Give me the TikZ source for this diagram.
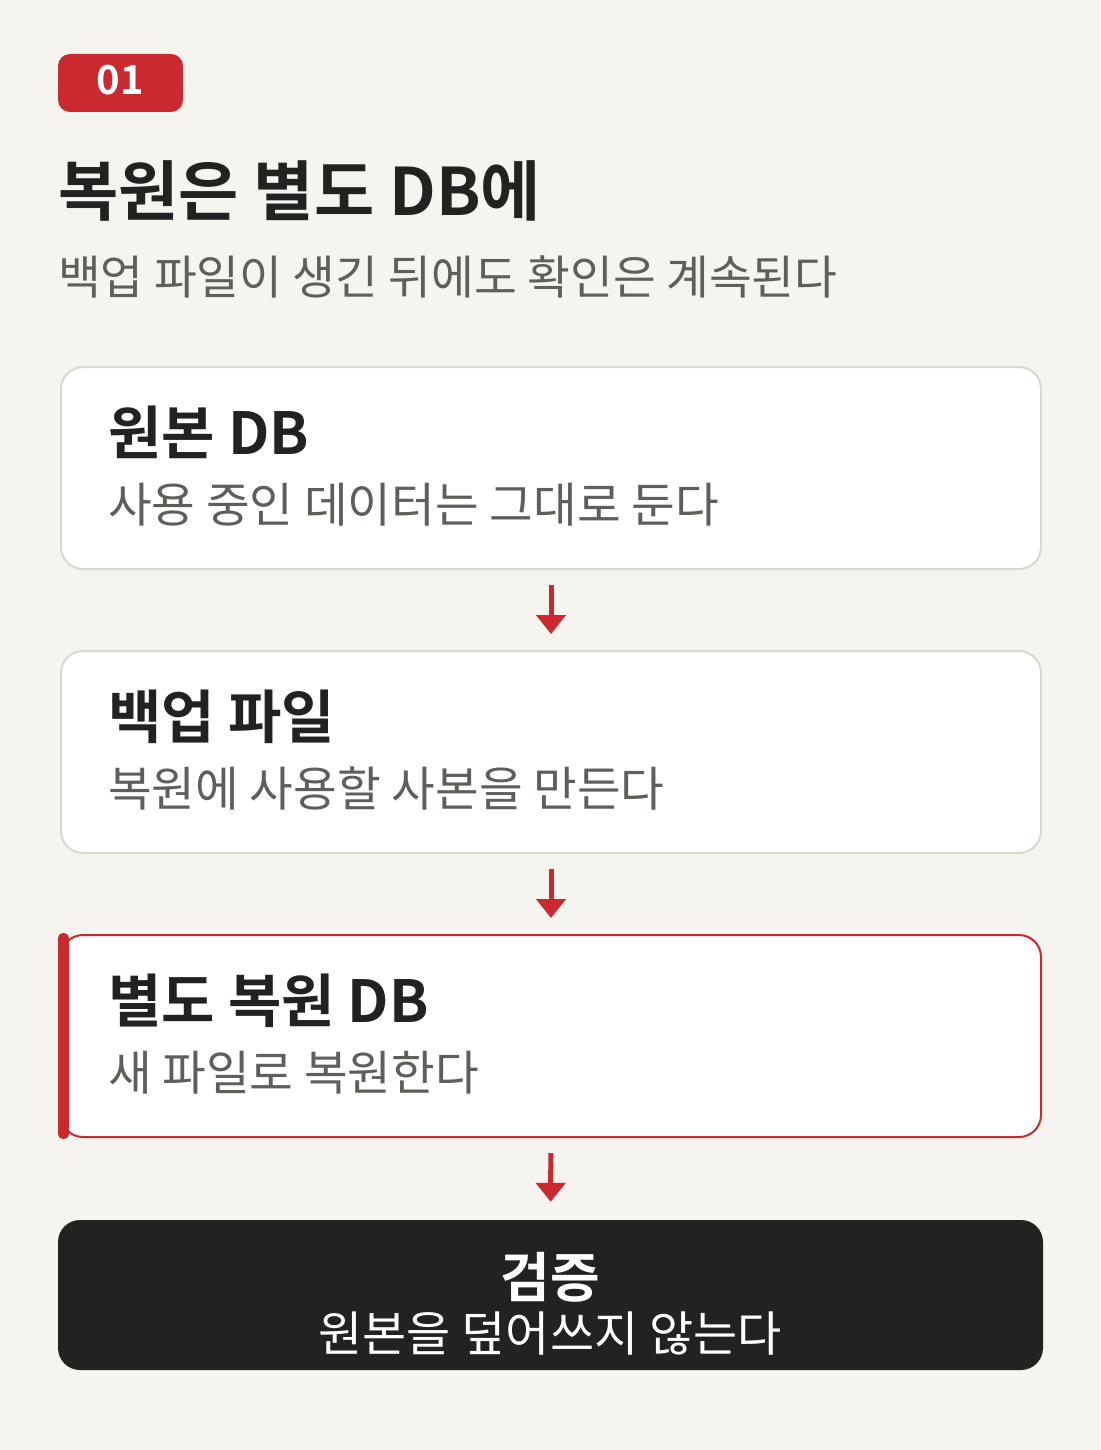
\documentclass[tikz,border=0pt]{standalone}
\usepackage{fontspec}
\setmainfont{Noto Sans CJK KR}[BoldFont={Noto Sans CJK KR Bold}]
\usetikzlibrary{arrows.meta}
\definecolor{paper}{RGB}{245,244,239}
\definecolor{ink}{RGB}{34,34,32}
\definecolor{muted}{RGB}{95,94,88}
\definecolor{accent}{RGB}{201,41,47}
\definecolor{rim}{RGB}{217,215,207}
\tikzset{
  card/.style={draw=rim, line width=2pt, fill=white, rounded corners=22pt,
    minimum width=980pt, minimum height=202pt},
  head/.style={anchor=base west, inner sep=0pt, text=ink,
    font=\fontsize{58}{62}\selectfont\bfseries},
  note/.style={anchor=base west, inner sep=0pt, text=muted,
    font=\fontsize{47.5}{52}\selectfont},
  flow/.style={draw=accent, line width=5pt, -{Triangle[width=29pt,length=19pt]},
    shorten <=15pt, shorten >=16pt},
}
\begin{document}
\begin{tikzpicture}[x=1pt,y=-1pt]
\fill[paper] (0,0) rectangle (1100,1450);
\useasboundingbox (0,0) rectangle (1100,1450);

\node[fill=accent, rounded corners=12pt, minimum width=125pt, minimum height=58pt,
  text=white, text depth=6pt, font=\fontsize{40}{40}\selectfont\bfseries] (tag) at (120.5,83) {01};
\node[anchor=base west, inner sep=0pt, text=ink,
  font=\fontsize{65.5}{70}\selectfont\bfseries] (title) at (58,215) {복원은 별도 DB에};
\node[note, font=\fontsize{46.5}{50}\selectfont] (sub) at (58,294) {백업 파일이 생긴 뒤에도 확인은 계속된다};

\node[card] (a) at (551,468) {};
\node[card] (b) at (551,752) {};
\node[card, draw=accent] (c) at (551,1036) {};
\fill[accent, rounded corners=5pt] (58,933) rectangle (69,1139);
\node[fill=ink, rounded corners=22pt, minimum width=985pt, minimum height=150pt] (d) at (550.5,1295) {};

\node[head] (a1) at (108,454) {원본 DB};
\node[note] (a2) at (108,522) {사용 중인 데이터는 그대로 둔다};
\node[head] (b1) at (108,738) {백업 파일};
\node[note] (b2) at (108,806) {복원에 사용할 사본을 만든다};
\node[head] (c1) at (108,1022) {별도 복원 DB};
\node[note] (c2) at (108,1090) {새 파일로 복원한다};
\node[head, anchor=base, text=white, font=\fontsize{54}{56}\selectfont\bfseries] (d1) at (550,1297) {검증};
\node[note, anchor=base, text=white, font=\fontsize{48}{52}\selectfont] (d2) at (550,1351) {원본을 덮어쓰지 않는다};

\path[flow] (a) -- (b);
\path[flow] (b) -- (c);
\path[flow, shorten >=18pt] (c) -- (d);
\end{tikzpicture}
\end{document}
